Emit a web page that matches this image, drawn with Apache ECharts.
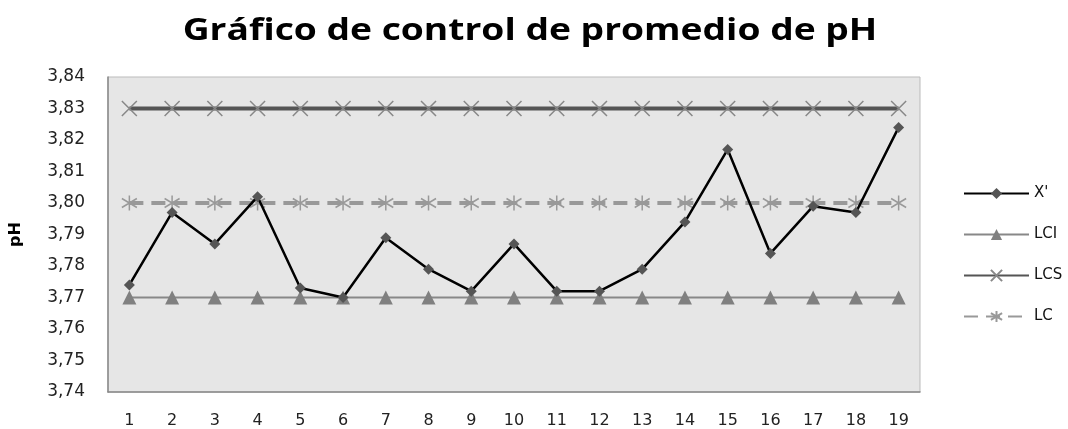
<!DOCTYPE html>
<html>
<head>
<meta charset="utf-8">
<script src="https://cdn.jsdelivr.net/npm/echarts@6/dist/echarts.min.js"></script>
<style>html,body{margin:0;padding:0;background:#fff}#c{width:1068px;height:429px}</style>
</head>
<body>
<div id="c"></div>
<script>
var categories = ['1','2','3','4','5','6','7','8','9','10','11','12','13','14','15','16','17','18','19'];
var xPrime = [3.774,3.797,3.787,3.802,3.773,3.770,3.789,3.779,3.772,3.787,3.772,3.772,3.779,3.794,3.817,3.784,3.799,3.797,3.824];
var lci = [3.77,3.77,3.77,3.77,3.77,3.77,3.77,3.77,3.77,3.77,3.77,3.77,3.77,3.77,3.77,3.77,3.77,3.77,3.77];
var lcs = [3.83,3.83,3.83,3.83,3.83,3.83,3.83,3.83,3.83,3.83,3.83,3.83,3.83,3.83,3.83,3.83,3.83,3.83,3.83];
var lc = [3.80,3.80,3.80,3.80,3.80,3.80,3.80,3.80,3.80,3.80,3.80,3.80,3.80,3.80,3.80,3.80,3.80,3.80,3.80];
var seriesNames = ["X'", 'LCI', 'LCS', 'LC'];
var titleText = 'Gráfico de control de promedio de pH';

var crossPath = 'path://M0,0L10,10M10,0L0,10';
var starPath = 'path://M5,0L5,10M0,2L10,8M10,2L0,8';
var font = 'DejaVu Sans';

var chart = echarts.init(document.getElementById('c'));
chart.setOption({
  animation: false,
  backgroundColor: '#fff',
  graphic: [{
    type: 'text', x: 530, y: 31, scaleX: 1.2,
    style: {text: titleText, font: 'bold 31px "Open Sans"', fill: '#000',
      textAlign: 'center', textVerticalAlign: 'middle'}
  }],
  legend: {
    orient: 'vertical', left: 958, top: 181,
    itemWidth: 65, itemHeight: 14, itemGap: 26,
    textStyle: {fontFamily: font, fontSize: 15, color: '#111'},
    data: seriesNames
  },
  grid: {
    left: 105, right: 148, top: 77, bottom: 36,
    show: true, backgroundColor: '#e6e6e6', borderColor: '#bbb', borderWidth: 1
  },
  xAxis: {
    type: 'category', data: categories, boundaryGap: true,
    axisLine: {lineStyle: {color: '#888', width: 1.5}},
    axisTick: {show: false},
    axisLabel: {fontFamily: font, fontSize: 16, color: '#222', margin: 21}
  },
  yAxis: {
    type: 'value', min: 3.74, max: 3.84, interval: 0.01,
    name: 'pH', nameLocation: 'middle', nameGap: 84, nameRotate: 90,
    nameTextStyle: {fontFamily: font, fontWeight: 'bold', fontSize: 16, color: '#000'},
    axisLine: {show: true, lineStyle: {color: '#888', width: 1.5}},
    axisTick: {show: false},
    splitLine: {show: false},
    axisLabel: {fontFamily: font, fontSize: 17, color: '#222', margin: 23,
      formatter: function (v) { return v.toFixed(2).replace('.', ','); }}
  },
  series: [
    {name: seriesNames[0], type: 'line', data: xPrime, z: 5,
      symbol: 'diamond', symbolSize: 11, showAllSymbol: true,
      lineStyle: {color: '#000', width: 2.5},
      itemStyle: {color: '#555'}},
    {name: seriesNames[1], type: 'line', data: lci, z: 3,
      symbol: 'triangle', symbolSize: 14, showAllSymbol: true,
      lineStyle: {color: '#888', width: 2},
      itemStyle: {color: '#808080'}},
    {name: seriesNames[2], type: 'line', data: lcs, z: 3,
      symbol: crossPath, symbolSize: 15, showAllSymbol: true,
      lineStyle: {color: '#555', width: 4},
      itemStyle: {color: '#888', borderColor: '#888', borderWidth: 1.5}},
    {name: seriesNames[3], type: 'line', data: lc, z: 3,
      symbol: starPath, symbolSize: 15, showAllSymbol: true,
      lineStyle: {color: '#999', width: 4, type: [14, 8]},
      itemStyle: {color: '#999', borderColor: '#999', borderWidth: 1.5}}
  ]
});
</script>
</body>
</html>
